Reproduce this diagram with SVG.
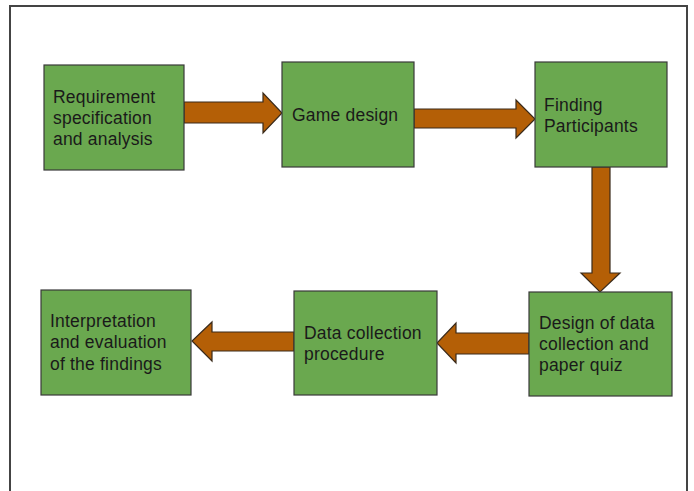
<svg xmlns="http://www.w3.org/2000/svg" width="694" height="491" viewBox="0 0 694 491">
<style>
.box{fill:#6aa84f;stroke:#3a3a3a;stroke-width:1.2}
.arr{fill:#b45f06;stroke:#3a2a1a;stroke-width:1.2;stroke-linejoin:miter}
text{font-family:"Liberation Sans",Arial,sans-serif;font-size:17.5px;letter-spacing:0.2px;fill:#1a1a1a}
</style>
<rect x="0" y="0" width="694" height="491" fill="#ffffff"/>
<path d="M10,496 V6 H687 V496" fill="none" stroke="#444444" stroke-width="2"/>
<g id="connectors">
<polygon class="arr" points="184,102 263,102 263,93 282,113 263,133 263,123 184,123"/>
<polygon class="arr" points="414,109 516,109 516,100 535,119 516,138 516,128 414,128"/>
<polygon class="arr" points="592,167 610,167 610,273 620,273 600,292 581,273 592,273"/>
<polygon class="arr" points="529,333 456,333 456,323 437,343 456,363 456,354 529,354"/>
<polygon class="arr" points="294,332 212,332 212,322 192,341 212,361 212,351 294,351"/>
</g>
<g id="n1">
<rect class="box" x="44" y="65" width="140" height="105"/>
<text x="53" y="103">Requirement</text>
<text x="53" y="124">specification</text>
<text x="53" y="145">and analysis</text>
</g>
<g id="n2">
<rect class="box" x="282" y="62" width="132" height="105"/>
<text x="292" y="121">Game design</text>
</g>
<g id="n3">
<rect class="box" x="535" y="62" width="132" height="105"/>
<text x="544" y="111">Finding</text>
<text x="544" y="132">Participants</text>
</g>
<g id="n4">
<rect class="box" x="529" y="292" width="143" height="104"/>
<text x="539" y="329">Design of data</text>
<text x="539" y="350">collection and</text>
<text x="539" y="371">paper quiz</text>
</g>
<g id="n5">
<rect class="box" x="294" y="291" width="143" height="104"/>
<text x="304" y="339">Data collection</text>
<text x="304" y="360">procedure</text>
</g>
<g id="n6">
<rect class="box" x="41" y="290" width="150" height="105"/>
<text x="50" y="327">Interpretation</text>
<text x="50" y="348">and evaluation</text>
<text x="50" y="370">of the findings</text>
</g>
</svg>
